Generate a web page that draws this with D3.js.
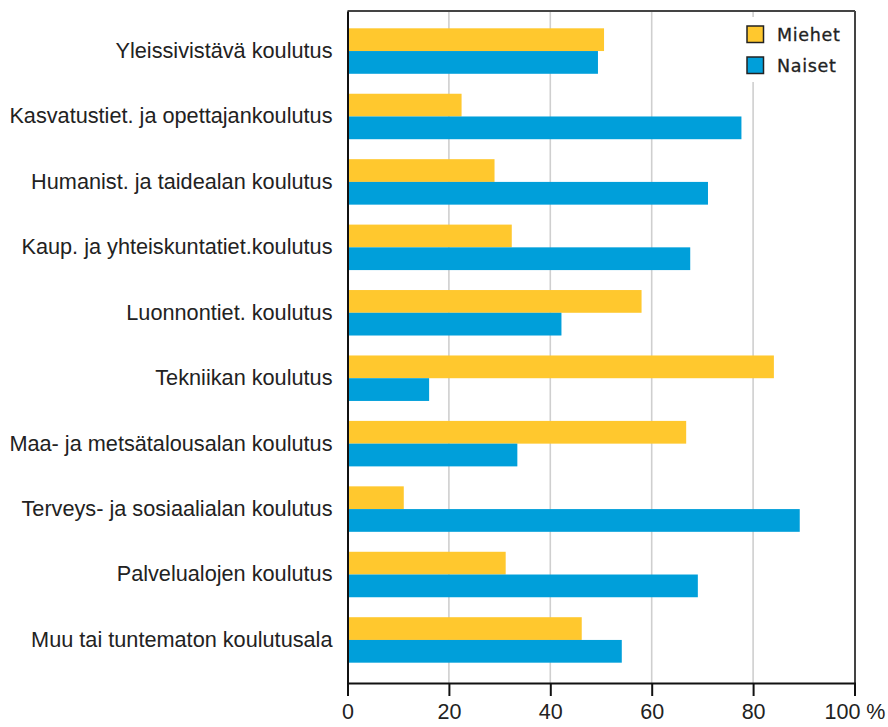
<!DOCTYPE html>
<html>
<head>
<meta charset="utf-8">
<script src="https://cdn.jsdelivr.net/npm/d3@7"></script>
<style>
  html, body { margin: 0; padding: 0; background: #fff; }
  svg { display: block; }
</style>
</head>
<body>
<div id="chart"></div>
<script>
// koulutusalat
const categories = [
  "Yleissivistävä koulutus",
  "Kasvatustiet. ja opettajankoulutus",
  "Humanist. ja taidealan koulutus",
  "Kaup. ja yhteiskuntatiet.koulutus",
  "Luonnontiet. koulutus",
  "Tekniikan koulutus",
  "Maa- ja metsätalousalan koulutus",
  "Terveys- ja sosiaalialan koulutus",
  "Palvelualojen koulutus",
  "Muu tai tuntematon koulutusala",
];
const seriesNames = ["Miehet", "Naiset"];
const miehet = [50.6, 22.5, 29.0, 32.4, 58.0, 84.1, 66.8, 11.1, 31.2, 46.2];
const naiset = [49.4, 77.7, 71.1, 67.6, 42.2, 16.1, 33.5, 89.2, 69.1, 54.1];
const xTicks = [0, 20, 40, 60, 80, 100];

const colors = { Miehet: "#ffc82e", Naiset: "#009fda" };

const width = 888;
const height = 727;
const plot = { left: 347.5, right: 855, top: 11, bottom: 683 };

const rows = categories.map((c, i) => ({ cat: c, Miehet: miehet[i], Naiset: naiset[i] }));

const svg = d3.select("#chart").append("svg")
  .attr("width", width)
  .attr("height", height)
  .style("font-family", "'Liberation Sans', Arial, sans-serif");

const x = d3.scaleLinear().domain([0, 100]).range([plot.left, plot.right - 0.5]);

const y = d3.scaleBand()
  .domain(categories)
  .range([plot.top, plot.bottom])
  .paddingInner(0.305)
  .paddingOuter(0.2875)
  .align(0.46);

const ySub = d3.scaleBand().domain(seriesNames).range([0, y.bandwidth()]);

// gridlines
svg.append("g")
  .selectAll("line")
  .data(xTicks.filter((d) => d > 0 && d < 100))
  .join("line")
  .attr("x1", (d) => x(d))
  .attr("x2", (d) => x(d))
  .attr("y1", plot.top)
  .attr("y2", plot.bottom)
  .attr("stroke", "#cfcfcf")
  .attr("stroke-width", 1.6);

// bars
const groups = svg.append("g")
  .selectAll("g")
  .data(rows)
  .join("g")
  .attr("transform", (d) => `translate(0,${y(d.cat)})`);

groups.selectAll("rect")
  .data((d) => seriesNames.map((s) => ({ key: s, value: d[s] })))
  .join("rect")
  .attr("x", x(0))
  .attr("y", (d) => ySub(d.key))
  .attr("width", (d) => x(d.value) - x(0))
  .attr("height", ySub.bandwidth())
  .attr("fill", (d) => colors[d.key]);

// frame top and right
svg.append("line")
  .attr("x1", plot.left).attr("x2", plot.right)
  .attr("y1", plot.top).attr("y2", plot.top)
  .attr("stroke", "#444").attr("stroke-width", 2);
svg.append("line")
  .attr("x1", plot.right).attr("x2", plot.right)
  .attr("y1", plot.top).attr("y2", plot.bottom)
  .attr("stroke", "#444").attr("stroke-width", 2);

// legend
const legend = svg.append("g");
legend.append("rect")
  .attr("x", 736).attr("y", 17)
  .attr("width", 118).attr("height", 65)
  .attr("fill", "#fff");
seriesNames.forEach((s, i) => {
  const ly = 26 + i * 31;
  legend.append("rect")
    .attr("x", 747).attr("y", ly)
    .attr("width", 16.5).attr("height", 16.5)
    .attr("fill", colors[s])
    .attr("stroke", "#222")
    .attr("stroke-width", 1.5);
  legend.append("text")
    .attr("x", 777).attr("y", ly + 14.5)
    .attr("font-family", "'DejaVu Sans', Verdana, sans-serif")
    .attr("font-size", 17.5)
    .attr("fill", "#222")
    .attr("stroke", "#222")
    .attr("stroke-width", 0.3)
    .attr("letter-spacing", 0.7)
    .text(s);
});

// x axis
const xAxis = svg.append("g")
  .attr("transform", `translate(0,${plot.bottom})`)
  .call(d3.axisBottom(x).tickValues(xTicks).tickSize(13).tickPadding(8)
    .tickFormat((d) => (d === 100 ? "100 %" : d)));
xAxis.select(".domain").attr("stroke", "#111").attr("stroke-width", 2);
xAxis.selectAll(".tick line").attr("stroke", "#111").attr("stroke-width", 2);
xAxis.selectAll(".tick text")
  .attr("font-family", "'Liberation Sans', Arial, sans-serif")
  .attr("font-size", 21.5)
  .attr("fill", "#222");

// y axis
const yAxis = svg.append("g")
  .attr("transform", `translate(${plot.left},0)`)
  .call(d3.axisLeft(y).tickSize(0).tickPadding(15));
yAxis.select(".domain").attr("stroke", "#111").attr("stroke-width", 2);
yAxis.selectAll(".tick text")
  .attr("font-family", "'Liberation Sans', Arial, sans-serif")
  .attr("font-size", 21.7)
  .attr("fill", "#222");
</script>
</body>
</html>
